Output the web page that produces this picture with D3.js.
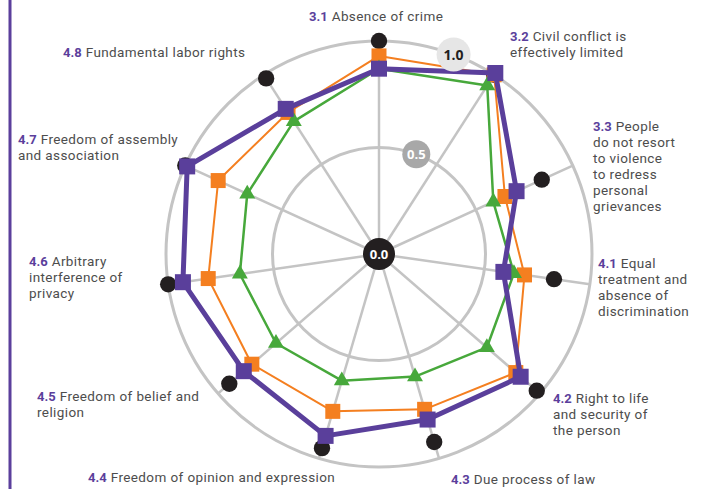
<!DOCTYPE html>
<html lang="en">
<head>
<meta charset="UTF-8" />
<title>Radar chart</title>
<style>
  body { margin: 0; background: #fff; }
  .lbl { font-family: Roboto, sans-serif; font-size: 13.5px; fill: #4d4d4d; letter-spacing: 0.4px; }
  .num { font-family: Roboto, sans-serif; font-weight: 700; fill: #5b3f9c; font-size: 13px; }
</style>
</head>
<body>
<svg width="704" height="489"></svg>
<script src="https://d3js.org/d3.v7.min.js"></script>
<script>
// axes, clockwise from the top
var axisNums = ["3.1", "3.2", "3.3", "4.1", "4.2", "4.3", "4.4", "4.5", "4.6", "4.7", "4.8"];
var axisText = [
  ["Absence of crime"],
  ["Civil conflict is", "effectively limited"],
  ["People", "do not resort", "to violence", "to redress", "personal", "grievances"],
  ["Equal", "treatment and", "absence of", "discrimination"],
  ["Right to life", "and security of", "the person"],
  ["Due process of law"],
  ["Freedom of opinion and expression"],
  ["Freedom of belief and", "religion"],
  ["Arbitrary", "interference of", "privacy"],
  ["Freedom of assembly", "and association"],
  ["Fundamental labor rights"]
];
// where each label block starts (left x, first baseline)
var labelPos = [[309, 21], [510, 41], [593, 131], [598, 268], [553, 403], [451, 484],
                [88, 482], [37, 401], [29, 266], [18, 144], [63, 57]];

var blackVals  = [1.0, 1.0, 0.84, 0.83, 0.98, 0.92, 0.95, 0.93, 1.0, 1.0, 0.98];
var orangeVals = [0.93, 1.0, 0.65, 0.69, 0.85, 0.76, 0.77, 0.79, 0.81, 0.83, 0.79];
var greenVals  = [0.87, 0.94, 0.59, 0.64, 0.67, 0.60, 0.62, 0.64, 0.66, 0.68, 0.74];
var purpleVals = [0.87, 1.01, 0.71, 0.59, 0.88, 0.81, 0.89, 0.84, 0.93, 0.99, 0.81];

var gridTicks = [0.5, 1.0];
var tickBadges = ["0.0", "0.5", "1.0"];

var svg = d3.select("svg");
var cx = 379, cy = 254;

var n = axisNums.length;
var angle = d3.scaleLinear().domain([0, n]).range([0, 2 * Math.PI]);
var r = d3.scaleLinear().domain([0, 1]).range([0, 213]);

function pt(i, v) {
  var a = angle(i);
  return [r(v) * Math.sin(a), -r(v) * Math.cos(a)];
}

// left rule
svg.append("line")
  .attr("x1", 10).attr("x2", 10).attr("y1", 0).attr("y2", 489)
  .attr("stroke", "#5b3f9c").attr("stroke-width", 3);

var g = svg.append("g").attr("transform", "translate(" + cx + "," + cy + ")");

// grid
g.selectAll(".ring").data(gridTicks).enter().append("circle")
  .attr("r", function(d) { return r(d); })
  .attr("fill", "none").attr("stroke", "#c4c4c4").attr("stroke-width", 3);

g.selectAll(".spoke").data(axisNums).enter().append("line")
  .attr("x1", 0).attr("y1", 0)
  .attr("x2", function(d, i) { return pt(i, 1)[0]; })
  .attr("y2", function(d, i) { return pt(i, 1)[1]; })
  .attr("stroke", "#c4c4c4").attr("stroke-width", 2.5);

// series
var series = [
  {vals: blackVals, color: "#231f20", line: 0, sym: d3.symbolCircle, size: 210},
  {vals: orangeVals, color: "#f47f20", line: 2, sym: d3.symbolSquare, size: 225},
  {vals: greenVals, color: "#47a83b", line: 2.5, sym: d3.symbolTriangle, size: 110},
  {vals: purpleVals, color: "#5a3f9b", line: 5, sym: d3.symbolSquare, size: 256}
];

var radial = d3.lineRadial()
  .angle(function(d, i) { return angle(i); })
  .radius(function(d) { return r(d); })
  .curve(d3.curveLinearClosed);

series.forEach(function(s) {
  if (s.line > 0) {
    g.append("path")
      .attr("d", radial(s.vals))
      .attr("fill", "none")
      .attr("stroke", s.color)
      .attr("stroke-width", s.line)
      .attr("stroke-linejoin", "round");
  }
  g.selectAll(null).data(s.vals).enter().append("path")
    .attr("d", d3.symbol().type(s.sym).size(s.size))
    .attr("transform", function(d, i) { var p = pt(i, d); return "translate(" + p[0] + "," + p[1] + ")"; })
    .attr("fill", s.color);
});

// value badges along one ray
var badgeAngle = 20.5 * Math.PI / 180;
var badgeStyle = [
  {fill: "#231f20", text: "#fff", rad: 16},
  {fill: "#a8a8a8", text: "#fff", rad: 14},
  {fill: "#e6e6e6", text: "#231f20", rad: 17}
];
tickBadges.forEach(function(t, i) {
  var v = +t;
  var x = r(v) * Math.sin(badgeAngle), y = -r(v) * Math.cos(badgeAngle);
  var b = g.append("g").attr("transform", "translate(" + x + "," + y + ")");
  b.append("circle").attr("r", badgeStyle[i].rad).attr("fill", badgeStyle[i].fill);
  b.append("text")
    .attr("text-anchor", "middle").attr("dy", "0.36em")
    .attr("font-family", "Open Sans, sans-serif").attr("font-weight", 700)
    .attr("font-size", i === 2 ? 14 : 13).attr("fill", badgeStyle[i].text)
    .text(t);
});

// axis labels: bold number, then the wrapped text
axisText.forEach(function(lines, i) {
  var x0 = labelPos[i][0], y0 = labelPos[i][1];
  var num = svg.append("text").attr("class", "num")
    .attr("x", x0).attr("y", y0).text(axisNums[i]);
  var w = num.node().getComputedTextLength() + 4;
  lines.forEach(function(line, j) {
    svg.append("text").attr("class", "lbl")
      .attr("x", j === 0 ? x0 + w : x0)
      .attr("y", y0 + j * 16)
      .text(line);
  });
});
</script>
</body>
</html>
